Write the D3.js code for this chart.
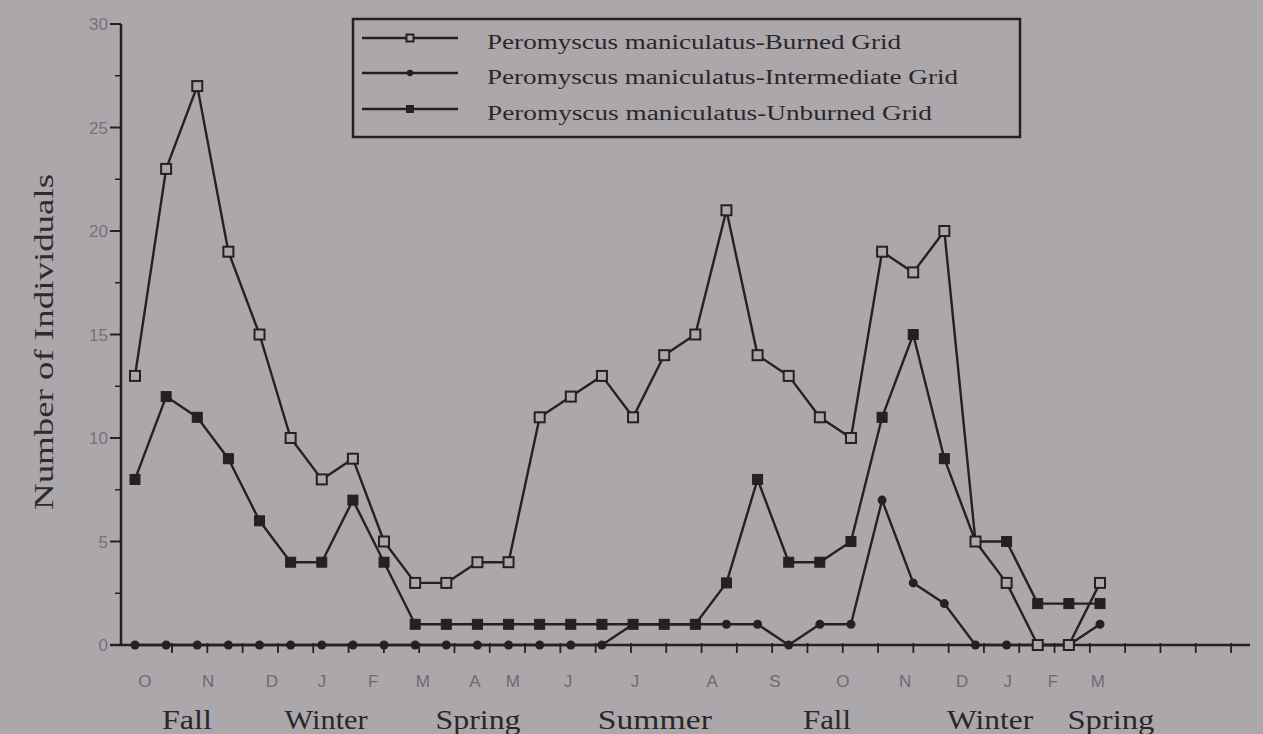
<!DOCTYPE html>
<html>
<head>
<meta charset="utf-8">
<script src="https://cdn.jsdelivr.net/npm/d3@7"></script>
<style>
  html, body { margin: 0; padding: 0; background: #aca7ab; }
  svg { display: block; }
</style>
</head>
<body>
<svg id="chart" width="1263" height="734"></svg>
<script>
// Trapping sessions, in order (one per sample date)
const sessions = d3.range(32);

// Number of Peromyscus maniculatus caught per session
const burned       = [13, 23, 27, 19, 15, 10, 8, 9, 5, 3, 3, 4, 4, 11, 12, 13, 11, 14, 15, 21, 14, 13, 11, 10, 19, 18, 20, 5, 3, 0, 0, 3];
const intermediate = [0, 0, 0, 0, 0, 0, 0, 0, 0, 0, 0, 0, 0, 0, 0, 0, 1, 1, 1, 1, 1, 0, 1, 1, 7, 3, 2, 0, 0, 0, 0, 1];
const unburned     = [8, 12, 11, 9, 6, 4, 4, 7, 4, 1, 1, 1, 1, 1, 1, 1, 1, 1, 1, 3, 8, 4, 4, 5, 11, 15, 9, 5, 5, 2, 2, 2];

// Month initials along the time axis, positioned in session units
const monthLabels = ["O", "N", "D", "J", "F", "M", "A", "M", "J", "J", "A", "S", "O", "N", "D", "J", "F", "M"];
const monthPos    = [0.32, 2.35, 4.40, 6.01, 7.65, 9.25, 10.92, 12.14, 13.91, 16.06, 18.54, 20.56, 22.74, 24.74, 26.57, 28.04, 29.49, 30.93];

// Seasons beneath the months
const seasonLabels = ["Fall", "Winter", "Spring", "Summer", "Fall", "Winter", "Spring"];
const seasonPos    = [1.67, 6.14, 11.02, 16.70, 22.23, 27.47, 31.35];
const seasonWidth  = [50, 83, 85, 114, 48, 86, 87];

// Y axis ticks
const yMajorTicks = [0, 5, 10, 15, 20, 25, 30];
const yMinorTicks = [2.5, 7.5, 12.5, 17.5, 22.5, 27.5];

const seriesNames = [
  "Peromyscus maniculatus-Burned Grid",
  "Peromyscus maniculatus-Intermediate Grid",
  "Peromyscus maniculatus-Unburned Grid"
];

const ink = "#232123";
const bg = "#aca7ab";
const svg = d3.select("#chart");

const x = d3.scaleLinear().domain([0, 31]).range([135, 1100]);
const y = d3.scaleLinear().domain([0, 30]).range([645, 24]);
const axisX0 = 121, axisX1 = 1250;

// ---- Y axis ----
const gy = svg.append("g");
gy.append("line").attr("x1", axisX0).attr("x2", axisX0)
  .attr("y1", y(30)).attr("y2", y(0) + 1)
  .attr("stroke", ink).attr("stroke-width", 2.5);
gy.selectAll("line.maj").data(yMajorTicks).join("line").attr("class", "maj")
  .attr("x1", axisX0 - 11).attr("x2", axisX0).attr("y1", d => y(d)).attr("y2", d => y(d))
  .attr("stroke", ink).attr("stroke-width", 2);
gy.selectAll("line.min").data(yMinorTicks).join("line").attr("class", "min")
  .attr("x1", axisX0 - 6).attr("x2", axisX0).attr("y1", d => y(d)).attr("y2", d => y(d))
  .attr("stroke", ink).attr("stroke-width", 1.5);
gy.selectAll("text").data(yMajorTicks).join("text")
  .attr("x", axisX0 - 13).attr("y", d => y(d)).attr("dy", "0.36em")
  .attr("text-anchor", "end")
  .attr("font-family", "Liberation Sans, Arial, sans-serif").attr("font-size", 17)
  .attr("fill", "#77727a")
  .text(d => d);

svg.append("text")
  .attr("transform", "translate(53,342) rotate(-90)")
  .attr("text-anchor", "middle")
  .attr("font-family", "Liberation Serif, Times New Roman, serif").attr("font-size", 28)
  .attr("fill", "#2e2b2e")
  .attr("textLength", 336).attr("lengthAdjust", "spacingAndGlyphs")
  .text("Number of Individuals");

// ---- X axis ----
const monthTicks = d3.range(31).map(k => 1.19 + k * 1.134);
const gx = svg.append("g");
gx.append("line").attr("x1", 110).attr("x2", axisX1).attr("y1", y(0)).attr("y2", y(0))
  .attr("stroke", ink).attr("stroke-width", 2.5);
gx.selectAll("line.t").data(monthTicks).join("line").attr("class", "t")
  .attr("x1", d => x(d)).attr("x2", d => x(d)).attr("y1", y(0) - 2).attr("y2", y(0) + 8)
  .attr("stroke", ink).attr("stroke-width", 1.8);
gx.selectAll("text.m").data(monthLabels).join("text").attr("class", "m")
  .attr("x", (d, i) => x(monthPos[i])).attr("y", 687)
  .attr("text-anchor", "middle")
  .attr("font-family", "Liberation Sans, Arial, sans-serif").attr("font-size", 17)
  .attr("fill", "#6f6a70")
  .text(d => d);
gx.selectAll("text.s").data(seasonLabels).join("text").attr("class", "s")
  .attr("x", (d, i) => x(seasonPos[i])).attr("y", 729)
  .attr("text-anchor", "middle")
  .attr("font-family", "Liberation Serif, Times New Roman, serif").attr("font-size", 28)
  .attr("fill", "#2a272a")
  .attr("textLength", (d, i) => seasonWidth[i]).attr("lengthAdjust", "spacingAndGlyphs")
  .text(d => d);

// ---- Series ----
const line = d3.line().x((d, i) => x(sessions[i])).y(d => y(d));

const series = [
  { values: burned, marker: "open" },
  { values: intermediate, marker: "dot" },
  { values: unburned, marker: "solid" }
];

function drawMarker(g, kind, cx, cy, scale) {
  if (kind === "open") {
    const s = 10 * scale;
    g.append("rect").attr("x", cx - s / 2).attr("y", cy - s / 2).attr("width", s).attr("height", s)
      .attr("fill", bg).attr("stroke", ink).attr("stroke-width", 2);
  } else if (kind === "solid") {
    const s = 10 * scale;
    g.append("rect").attr("x", cx - s / 2).attr("y", cy - s / 2).attr("width", s).attr("height", s)
      .attr("fill", ink).attr("stroke", ink).attr("stroke-width", 1);
  } else {
    g.append("circle").attr("cx", cx).attr("cy", cy).attr("r", 4.5 * scale).attr("fill", ink);
  }
}

series.forEach(s => {
  svg.append("path").datum(s.values).attr("d", line)
    .attr("fill", "none").attr("stroke", ink).attr("stroke-width", 2.4)
    .attr("stroke-linejoin", "round");
});
// markers drawn on top, burned last so the open squares stay visible
[series[1], series[2], series[0]].forEach(s => {
  const g = svg.append("g");
  s.values.forEach((v, i) => drawMarker(g, s.marker, x(sessions[i]), y(v), 1));
});

// ---- Legend ----
const lg = svg.append("g");
lg.append("rect").attr("x", 353).attr("y", 19).attr("width", 667).attr("height", 118)
  .attr("fill", "none").attr("stroke", ink).attr("stroke-width", 2.5);
const rowsY = [38, 73, 109];
const textLen = [414, 471, 445];
series.forEach((s, i) => {
  lg.append("line").attr("x1", 362).attr("x2", 458).attr("y1", rowsY[i]).attr("y2", rowsY[i])
    .attr("stroke", ink).attr("stroke-width", 2.4);
  drawMarker(lg, s.marker, 410, rowsY[i], 0.7);
  lg.append("text").attr("x", 487).attr("y", rowsY[i] + 11)
    .attr("font-family", "Liberation Serif, Times New Roman, serif").attr("font-size", 20)
    .attr("fill", "#2a272a")
    .attr("textLength", textLen[i]).attr("lengthAdjust", "spacingAndGlyphs")
    .text(seriesNames[i]);
});
</script>
</body>
</html>
